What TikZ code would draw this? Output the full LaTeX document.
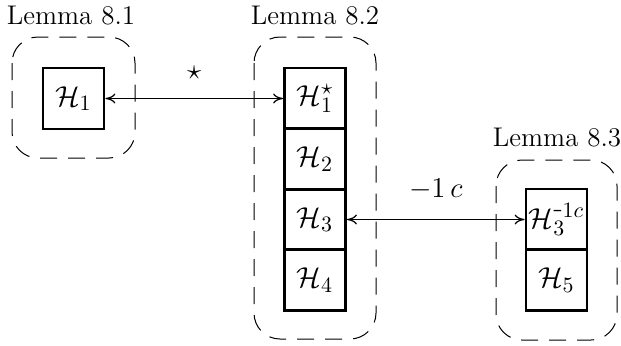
\documentclass[tikz,border=0pt]{standalone}
\usetikzlibrary{arrows.meta}
\begin{document}
\begin{tikzpicture}[x=0.5pt,y=-0.5pt,
  hbox/.style={draw, line width=1.4pt, minimum width=30.5pt, minimum height=30.5pt, inner sep=0pt, font=\fontsize{15}{18}\selectfont},
  group/.style={draw, line width=0.5pt, rounded corners=13pt, dash pattern=on 8.5pt off 5.5pt},
  lemma/.style={font=\fontsize{13.5}{16}\selectfont},
  conn/.style={line width=0.6pt, {To[length=5pt,width=5pt]}-{To[length=5pt,width=5pt]}},
  lab/.style={font=\fontsize{15}{18}\selectfont}]
\useasboundingbox (0,0) rectangle (621,345);
% groups
\draw[group] (12,37) rectangle (135,158);
\draw[group] (254,37) rectangle (376,339);
\draw[group] (496,160) rectangle (617,340);
% lemma labels
\node[lemma] (l1) at (71,16) {Lemma 8.1};
\node[lemma] (l2) at (315,16) {Lemma 8.2};
\node[lemma] (l3) at (557,138) {Lemma 8.3};
% boxes
\node[hbox] (h1) at (73.5,98.5) {$\mathcal{H}_1$};
\node[hbox] (h1s) at (315,98.5) {$\mathcal{H}_1^{\star}$};
\node[hbox] (h2) at (315,159) {$\mathcal{H}_2$};
\node[hbox] (h3) at (315,219.5) {$\mathcal{H}_3$};
\node[hbox] (h4) at (315,280) {$\mathcal{H}_4$};
\node[hbox] (h3c) at (556.5,219.5) {$\mathcal{H}_3^{\mbox{-}1c}$};
\node[hbox] (h5) at (556.5,280) {$\mathcal{H}_5$};
% connectors
\draw[conn] (h1.east) -- node[lab, above=6pt] (st) {$\star$} (h1s.west);
\draw[conn] (h3.east) -- node[lab, above=6pt] (mc) {$-1\,c$} (h3c.west);
\end{tikzpicture}
\end{document}
